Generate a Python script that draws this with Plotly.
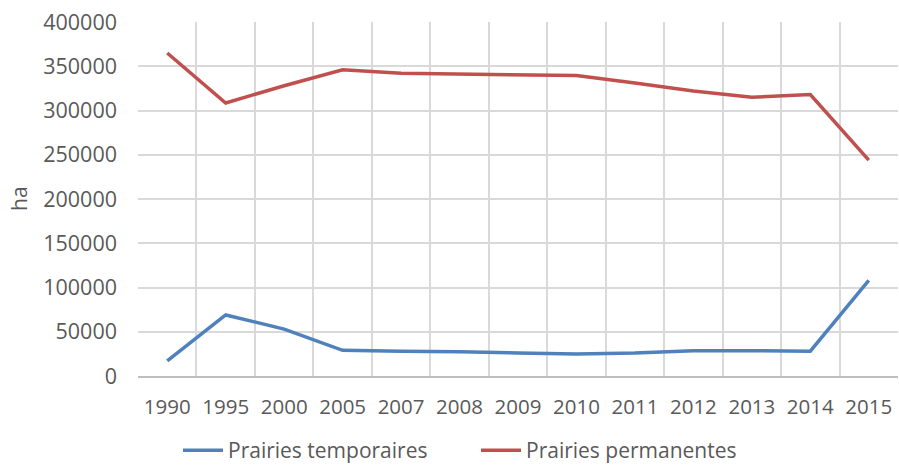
import plotly.graph_objects as go

years = ["1990", "1995", "2000", "2005", "2007", "2008", "2009", "2010",
         "2011", "2012", "2013", "2014", "2015"]
prairies_temporaires = [17000, 69000, 53000, 29000, 28000, 27500, 26000, 25000,
                        26000, 28500, 28500, 28000, 108000]
prairies_permanentes = [365000, 308500, 328000, 346000, 342000, 341000, 340000, 339500,
                        331000, 322000, 315000, 318000, 244000]

font_family = "Open Sans, Liberation Sans, sans-serif"
grey_text = "#595959"

fig = go.Figure()
fig.add_trace(go.Scatter(x=years, y=prairies_temporaires, mode="lines",
                         name="Prairies temporaires", legend="legend",
                         line=dict(color="#4f81bd", width=3.5)))
fig.add_trace(go.Scatter(x=years, y=prairies_permanentes, mode="lines",
                         name="Prairies permanentes", legend="legend2",
                         line=dict(color="#c0504d", width=3.5)))

legend_common = dict(orientation="h", xanchor="left", y=-(471 - 376) / 354, yanchor="bottom",
                     font=dict(size=21, color=grey_text), itemwidth=40,
                     bgcolor="rgba(0,0,0,0)")

fig.update_layout(
    width=899, height=471,
    margin=dict(l=138, r=1, t=22, b=95, autoexpand=False),
    paper_bgcolor="white", plot_bgcolor="white",
    font=dict(family=font_family, size=21, color=grey_text),
    showlegend=True,
    legend=dict(x=(178 - 138) / 760, **legend_common),
    legend2=dict(x=(476 - 138) / 760, **legend_common),
    xaxis=dict(type="category", range=[-0.5, 12.5], tickson="boundaries",
               showgrid=True, gridcolor="#d9d9d9", gridwidth=1.5,
               showline=True, linecolor="#bfbfbf", linewidth=1.5,
               ticks="", tickangle=0, automargin=False, ticklabelstandoff=12,
               tickfont=dict(size=20.5, color=grey_text)),
    yaxis=dict(range=[0, 400000], dtick=50000, tickformat="d",
               showgrid=True, gridcolor="#d9d9d9", gridwidth=1.5,
               zeroline=False, showline=False, ticks="", automargin=False,
               ticklabelstandoff=20,
               tickfont=dict(size=21.5, color=grey_text)),
    annotations=[dict(text="ha", xref="paper", yref="paper", x=(19 - 138) / 760, y=0.5,
                      xanchor="center", yanchor="middle", textangle=-90, showarrow=False,
                      font=dict(size=21, color=grey_text))],
)

fig.write_html("out.html", config={"displayModeBar": False},
               post_script="document.body.style.margin='0';document.body.style.overflow='hidden';")
